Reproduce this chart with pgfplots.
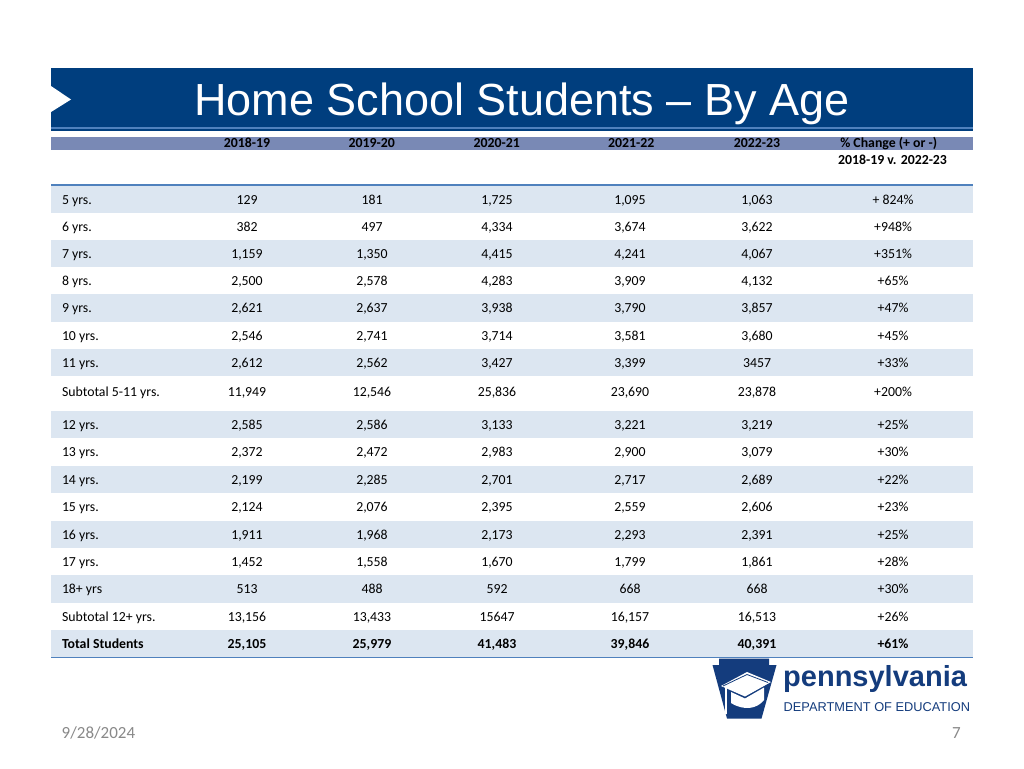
\documentclass[border=0pt]{standalone}
\usepackage{pgfplots}
\pgfplotsset{compat=1.18}
\usepackage{pgfplotstable}
\usepackage{fontspec}
\setmainfont{Carlito}
\newfontfamily\arialfont{Liberation Sans}
\definecolor{band}{RGB}{0,62,126}
\definecolor{hdr}{RGB}{121,137,181}
\definecolor{rowshade}{RGB}{220,230,241}
\definecolor{rule}{RGB}{79,129,189}
\definecolor{logo}{RGB}{20,60,125}
\definecolor{foot}{RGB}{137,137,137}

\pgfplotstableread[col sep=semicolon]{
yb;label;a;b;c;d;e;f
204.1;5 yrs.;129;181;1,725;1,095;1,063;+ 824
231.3;6 yrs.;382;497;4,334;3,674;3,622;+948
258.5;7 yrs.;1,159;1,350;4,415;4,241;4,067;+351
285.7;8 yrs.;2,500;2,578;4,283;3,909;4,132;+65
312.9;9 yrs.;2,621;2,637;3,938;3,790;3,857;+47
340.1;10 yrs.;2,546;2,741;3,714;3,581;3,680;+45
367.3;11 yrs.;2,612;2,562;3,427;3,399;3457;+33
396.5;Subtotal 5-11 yrs.;11,949;12,546;25,836;23,690;23,878;+200
429.4;12 yrs.;2,585;2,586;3,133;3,221;3,219;+25
456.8;13 yrs.;2,372;2,472;2,983;2,900;3,079;+30
484.2;14 yrs.;2,199;2,285;2,701;2,717;2,689;+22
511.6;15 yrs.;2,124;2,076;2,395;2,559;2,606;+23
539.0;16 yrs.;1,911;1,968;2,173;2,293;2,391;+25
566.4;17 yrs.;1,452;1,558;1,670;1,799;1,861;+28
593.8;18+ yrs;513;488;592;668;668;+30
621.2;Subtotal 12+ yrs.;13,156;13,433;15647;16,157;16,513;+26
}\agedata

\pgfplotstableread[col sep=semicolon]{
yb;label;a;b;c;d;e;f
648.6;Total Students;25,105;25,979;41,483;39,846;40,391;+61
}\totaldata

\pgfplotsset{
  cell/.style={draw=none, mark=none, nodes near coords, point meta=explicit symbolic,
    every node near coord/.append style={anchor=base, inner sep=0pt, outer sep=0pt,
      text=black, font=\fontsize{13.8}{16}\selectfont}},
  cellb/.style={cell, every node near coord/.append style={font=\fontsize{13.8}{16}\selectfont\bfseries}},
  leftcell/.style={every node near coord/.append style={anchor=base west}},
}

\begin{document}
\begin{tikzpicture}
\begin{axis}[scale only axis, width=1024pt, height=768pt,
  xmin=0, xmax=1024, ymin=0, ymax=768, y dir=reverse,
  hide axis, clip=false]
% background
\fill[white] (0,0) rectangle (1024,768);
% title band
\fill[band] (51,68) rectangle (973,127);
\fill[rule] (51,127) rectangle (973,128.6);
\fill[band] (51,128.6) rectangle (973,130.6);
\fill[white] (51,86) -- (71,99.5) -- (51,112) -- cycle;
\node[anchor=base, text=white, font=\arialfont\fontsize{45}{50}\selectfont, inner sep=0pt] at (522,115) {Home School Students – By Age};
% header bar
\fill[hdr] (51,137) rectangle (973,149.5);
\begin{scope}[every node/.style={anchor=base, inner sep=0pt, font=\fontsize{13.8}{16}\selectfont\bfseries, text=black}]
\node at (247,147.2) {2018-19};
\node at (371.7,147.2) {2019-20};
\node at (496.7,147.2) {2020-21};
\node at (631.3,147.2) {2021-22};
\node at (757,147.2) {2022-23};
\node at (888.7,147.2) {\% Change (+ or -)};
\node at (892.5,164.5) {2018-19 v. 2022-23};
\end{scope}
% row shading
\fill[rowshade] (51,185.5) rectangle (973,212.7);
\fill[rowshade] (51,239.9) rectangle (973,267.1);
\fill[rowshade] (51,294.3) rectangle (973,321.5);
\fill[rowshade] (51,348.7) rectangle (973,375.9);
\fill[rowshade] (51,411) rectangle (973,438.4);
\fill[rowshade] (51,465.8) rectangle (973,493.2);
\fill[rowshade] (51,520.6) rectangle (973,548);
\fill[rowshade] (51,575.4) rectangle (973,602.8);
\fill[rowshade] (51,630.2) rectangle (973,657);
\fill[rule] (51,183.8) rectangle (973,185.6);
\fill[rule] (51,656.8) rectangle (973,658.4);
% table cells
\addplot[cell, leftcell] table[x expr=62, y=yb, meta=label] {\agedata};
\addplot[cell] table[x expr=247, y=yb, meta=a] {\agedata};
\addplot[cell] table[x expr=372, y=yb, meta=b] {\agedata};
\addplot[cell] table[x expr=497, y=yb, meta=c] {\agedata};
\addplot[cell] table[x expr=630, y=yb, meta=d] {\agedata};
\addplot[cell] table[x expr=757, y=yb, meta=e] {\agedata};
\addplot[cell, nodes near coords={\pgfplotspointmeta\%}] table[x expr=893, y=yb, meta=f] {\agedata};
\addplot[cellb, leftcell] table[x expr=62, y=yb, meta=label] {\totaldata};
\addplot[cellb] table[x expr=247, y=yb, meta=a] {\totaldata};
\addplot[cellb] table[x expr=372, y=yb, meta=b] {\totaldata};
\addplot[cellb] table[x expr=497, y=yb, meta=c] {\totaldata};
\addplot[cellb] table[x expr=630, y=yb, meta=d] {\totaldata};
\addplot[cellb] table[x expr=757, y=yb, meta=e] {\totaldata};
\addplot[cellb, nodes near coords={\pgfplotspointmeta\%}] table[x expr=893, y=yb, meta=f] {\totaldata};
% logo keystone
\fill[logo] (719,658.5) -- (769,658.5) -- (769,665) -- (776.5,665) -- (761.5,718.5) -- (727,718.5) -- (712.5,665) -- (719,665) -- cycle;
\fill[white] (721,686) -- (747,672) -- (771,682) -- (745,696.5) -- cycle;
\draw[logo, line width=0.8pt] (723,686) -- (747,674.5) -- (768,682.5);
\fill[white] (731,692) -- (731,703) .. controls (744,711) and (757,709) .. (764,700) -- (764,687.5) -- (745,698.5) -- cycle;
\draw[white, line width=1.6pt] (746,680) -- (726,687.5) -- (726,714);
\fill[white] (746,680) circle (1.8);
\node[anchor=base west, inner sep=0pt, text=logo, font=\arialfont\fontsize{29}{30}\selectfont\bfseries] at (783,686.7) {pennsylvania};
\node[anchor=base west, inner sep=0pt, text=logo, font=\arialfont\fontsize{12.8}{14}\selectfont] at (783.5,711.7) {DEPARTMENT OF EDUCATION};
% footer
\node[anchor=base west, inner sep=0pt, text=foot, font=\fontsize{17}{19}\selectfont] at (61.5,738.3) {9/28/2024};
\node[anchor=base east, inner sep=0pt, text=foot, font=\fontsize{17}{19}\selectfont] at (961,738.3) {7};
\end{axis}
\end{tikzpicture}
\end{document}
